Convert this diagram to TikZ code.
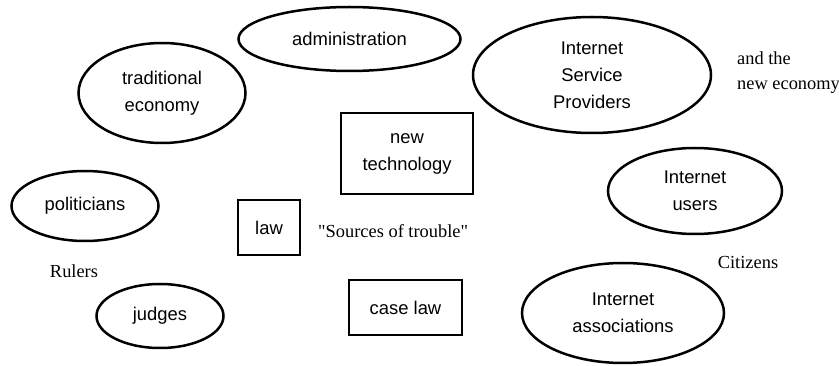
\documentclass[tikz,border=0pt]{standalone}
\usepackage{fontspec}
\setmainfont{Liberation Serif}
\setsansfont{Liberation Sans}
\newfontfamily\plainserif{Liberation Serif}
\usetikzlibrary{shapes.geometric}
\begin{document}
\begin{tikzpicture}[x=1pt,y=-1pt,
 lab/.style={font=\sffamily\fontsize{18.4}{27}\selectfont, align=center, line width=2.5pt, draw, inner sep=0pt},
 oval/.style={lab, ellipse},
 boxn/.style={lab, rectangle},
 free/.style={font=\plainserif\fontsize{18.4}{25}\selectfont, inner sep=0pt}]
\useasboundingbox (0,0) rectangle (839,366);
\node[oval, minimum width=222pt, minimum height=64pt] (admin) at (349.5,39) {administration};
\node[oval, minimum width=167pt, minimum height=100pt] (trad) at (162,93) {traditional\\economy};
\node[oval, minimum width=147pt, minimum height=70pt] (pol) at (85,206) {politicians};
\node[oval, minimum width=127pt, minimum height=64pt] (judges) at (160,316) {judges};
\node[oval, minimum width=238pt, minimum height=116pt] (isp) at (592,75) {Internet\\Service\\Providers};
\node[oval, minimum width=174pt, minimum height=86pt] (users) at (695,191) {Internet\\users};
\node[oval, minimum width=202pt, minimum height=100pt] (assoc) at (623,313) {Internet\\associations};
\node[boxn, minimum width=132pt, minimum height=81pt] (tech) at (407,153.5) {new\\technology};
\node[boxn, minimum width=62pt, minimum height=55pt] (law) at (269,227.5) {law};
\node[boxn, minimum width=113pt, minimum height=55pt] (case) at (405.5,307.5) {case law};
\node[free, anchor=west] (src) at (318,231) {"Sources of trouble"};
\node[free] (rulers) at (74,271) {Rulers};
\node[free] (cit) at (748,262) {Citizens};
\node[free, anchor=west, align=left] (newec) at (737,73) {and the\\new economy};
\end{tikzpicture}
\end{document}
